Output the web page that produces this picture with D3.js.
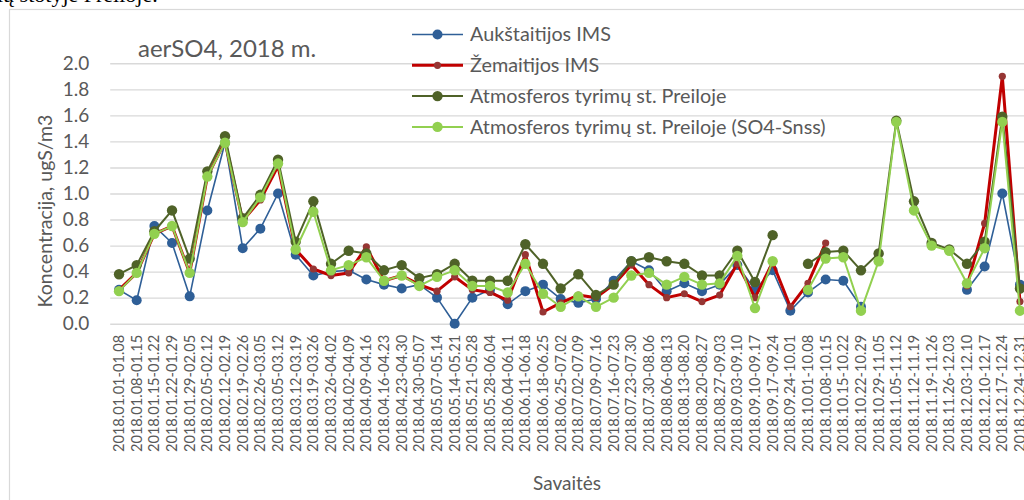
<!DOCTYPE html>
<html>
<head>
<meta charset="utf-8">
<script src="https://cdn.jsdelivr.net/npm/d3@7"></script>
<style>
  body { margin: 0; background: #fff; overflow: hidden; }
  svg { display: block; }
  text { font-family: Lato, "Noto Sans", sans-serif; fill: #595959; }
</style>
</head>
<body>
<div id="chart"></div>
<script>
// weekly periods
var weeks = [
  "2018.01.01-01.08", "2018.01.08-01.15", "2018.01.15-01.22", "2018.01.22-01.29",
  "2018.01.29-02.05", "2018.02.05-02.12", "2018.02.12-02.19", "2018.02.19-02.26",
  "2018.02.26-03.05", "2018.03.05-03.12", "2018.03.12-03.19", "2018.03.19-03.26",
  "2018.03.26-04.02", "2018.04.02-04.09", "2018.04.09-04.16", "2018.04.16-04.23",
  "2018.04.23-04.30", "2018.04.30-05.07", "2018.05.07-05.14", "2018.05.14-05.21",
  "2018.05.21-05.28", "2018.05.28-06.04", "2018.06.04-06.11", "2018.06.11-06.18",
  "2018.06.18-06.25", "2018.06.25-07.02", "2018.07.02-07.09", "2018.07.09-07.16",
  "2018.07.16-07.23", "2018.07.23-07.30", "2018.07.30-08.06", "2018.08.06-08.13",
  "2018.08.13-08.20", "2018.08.20-08.27", "2018.08.27-09.03", "2018.09.03-09.10",
  "2018.09.10-09.17", "2018.09.17-09.24", "2018.09.24-10.01", "2018.10.01-10.08",
  "2018.10.08-10.15", "2018.10.15-10.22", "2018.10.22-10.29", "2018.10.29-11.05",
  "2018.11.05-11.12", "2018.11.12-11.19", "2018.11.19-11.26", "2018.11.26-12.03",
  "2018.12.03-12.10", "2018.12.10-12.17", "2018.12.17-12.24", "2018.12.24-12.31"
];

var aukstaitija = [0.26, 0.18, 0.75, 0.62, 0.21, 0.87, 1.39, 0.58, 0.73, 1.00, 0.53, 0.37,
  0.40, 0.41, 0.34, 0.30, 0.27, 0.30, 0.20, 0.00, 0.20, 0.26, 0.15, 0.25, 0.30, 0.19,
  0.16, 0.19, 0.33, 0.48, 0.41, 0.25, 0.31, 0.25, 0.30, 0.45, 0.26, 0.41, 0.10, 0.24,
  0.34, 0.33, 0.13, null, null, null, null, null, 0.26, 0.44, 1.00, 0.30];

var zemaitija = [0.26, 0.39, 0.69, 0.75, 0.39, 1.13, 1.40, 0.79, 0.95, 1.21, 0.57, 0.42,
  0.37, 0.39, 0.59, 0.33, 0.37, 0.30, 0.25, 0.36, 0.26, 0.24, 0.18, 0.53, 0.09, 0.16,
  0.22, 0.20, 0.30, 0.45, 0.30, 0.20, 0.23, 0.17, 0.22, 0.46, 0.20, 0.47, 0.13, 0.31,
  0.62, null, null, null, null, null, null, null, 0.29, 0.77, 1.90, 0.17];

var preila = [0.38, 0.45, 0.71, 0.87, 0.50, 1.17, 1.44, 0.81, 0.99, 1.26, 0.63, 0.94,
  0.46, 0.56, 0.54, 0.41, 0.45, 0.35, 0.38, 0.46, 0.33, 0.33, 0.33, 0.61, 0.46, 0.27,
  0.38, 0.22, 0.30, 0.48, 0.51, 0.48, 0.46, 0.37, 0.37, 0.56, 0.32, 0.68, null, 0.46,
  0.55, 0.56, 0.41, 0.54, 1.56, 0.94, 0.62, 0.57, 0.46, 0.63, 1.59, 0.27];

var preilaSnss = [0.25, 0.39, 0.69, 0.75, 0.39, 1.13, 1.39, 0.78, 0.97, 1.23, 0.57, 0.86,
  0.41, 0.45, 0.51, 0.33, 0.37, 0.29, 0.36, 0.41, 0.29, 0.29, 0.24, 0.46, 0.23, 0.13,
  0.21, 0.13, 0.20, 0.37, 0.39, 0.30, 0.36, 0.30, 0.31, 0.52, 0.12, 0.48, null, 0.26,
  0.50, 0.51, 0.10, 0.48, 1.55, 0.87, 0.60, 0.56, 0.31, 0.58, 1.55, 0.10];

var yTicks = [0, 0.2, 0.4, 0.6, 0.8, 1.0, 1.2, 1.4, 1.6, 1.8, 2.0];

// drawn in this order (last on top)
var series = [
  {name: "Aukštaitijos IMS", values: aukstaitija, line: "#2f5f97", dot: "#2f5f97", lw: 1.6, r: 5},
  {name: "Žemaitijos IMS", values: zemaitija, line: "#c00000", dot: "#963634", lw: 3, r: 3.6},
  {name: "Atmosferos tyrimų st. Preiloje", values: preila, line: "#4f6228", dot: "#4f6228", lw: 2, r: 5.2},
  {name: "Atmosferos tyrimų st. Preiloje (SO4-Snss)", values: preilaSnss, line: "#92d050", dot: "#92d050", lw: 2, r: 5.2}
];

var width = 1024, height = 500;
var plot = {left: 110.2, right: 1028.8, top: 63.3, bottom: 323.7};

var svg = d3.select('#chart').append('svg')
    .attr('width', width)
    .attr('height', height);

// text of the document above the chart (cut off)
svg.append('text')
    .attr('x', -14).attr('y', 2)
    .style('font-family', '"Liberation Serif", serif')
    .style('font-size', '22px')
    .style('fill', '#000')
    .text('nių stotyje Preiloje.');

svg.append('rect')
    .attr('x', 9.5).attr('y', 9.5)
    .attr('width', 1100).attr('height', 600)
    .attr('fill', 'none')
    .attr('stroke', '#d9d9d9')
    .attr('stroke-width', 1.2);

var x = d3.scaleBand().domain(weeks).range([plot.left, plot.right]);
var y = d3.scaleLinear().domain([0, 2]).range([plot.bottom, plot.top]);
var cx = function(i) { return x(weeks[i]) + x.bandwidth() / 2; };

// gridlines + y labels
var yAxis = svg.append('g')
    .attr('transform', 'translate(' + plot.left + ',0)')
    .call(d3.axisLeft(y).tickValues(yTicks).tickFormat(d3.format('.1f'))
        .tickSize(-(plot.right - plot.left)).tickPadding(21));
yAxis.select('.domain').remove();
yAxis.selectAll('line').attr('stroke', '#d9d9d9').attr('stroke-width', 1.4);
yAxis.selectAll('text')
    .style('font-size', '19px')
    .style('fill', '#595959')
    .style('font-family', 'Lato, sans-serif');

// x labels
var xAxis = svg.append('g')
    .attr('transform', 'translate(0,' + plot.bottom + ')')
    .call(d3.axisBottom(x).tickSize(0).tickPadding(0));
xAxis.select('.domain').remove();
xAxis.selectAll('text')
    .attr('transform', 'rotate(-90)')
    .attr('x', -11).attr('y', 0).attr('dy', '0.35em')
    .attr('text-anchor', 'end')
    .style('font-size', '14.6px')
    .style('fill', '#595959')
    .style('font-family', 'Lato, sans-serif');

// series
series.forEach(function(s) {
  var pts = s.values.map(function(v, i) { return {i: i, v: v}; });
  var line = d3.line()
      .defined(function(d) { return d.v != null; })
      .x(function(d) { return cx(d.i); })
      .y(function(d) { return y(d.v); });
  var g = svg.append('g').attr('class', 'series');
  g.append('path')
      .datum(pts)
      .attr('d', line)
      .attr('fill', 'none')
      .attr('stroke', s.line)
      .attr('stroke-width', s.lw)
      .attr('stroke-linejoin', 'round');
  g.selectAll('circle')
      .data(pts.filter(function(d) { return d.v != null; }))
      .enter().append('circle')
      .attr('cx', function(d) { return cx(d.i); })
      .attr('cy', function(d) { return y(d.v); })
      .attr('r', s.r)
      .attr('fill', s.dot);
});

// legend
var legend = svg.append('g').attr('transform', 'translate(412,34.5)');
var item = legend.selectAll('g').data(series).enter().append('g')
    .attr('transform', function(d, i) { return 'translate(0,' + (i * 30.8) + ')'; });
item.append('line')
    .attr('x1', 0).attr('x2', 51)
    .attr('stroke', function(d) { return d.line; })
    .attr('stroke-width', function(d) { return d.lw; });
item.append('circle')
    .attr('cx', 25.5)
    .attr('r', function(d) { return d.r; })
    .attr('fill', function(d) { return d.dot; });
item.append('text')
    .attr('x', 58).attr('dy', '0.35em')
    .style('font-size', '19.8px')
    .text(function(d) { return d.name; });

// titles
svg.append('text')
    .attr('x', 138).attr('y', 57)
    .style('font-size', '24px')
    .text('aerSO4, 2018 m.');

svg.append('text')
    .attr('transform', 'translate(52,211) rotate(-90)')
    .attr('text-anchor', 'middle')
    .style('font-size', '19.5px')
    .text('Koncentracija, ugS/m3');

svg.append('text')
    .attr('x', 567).attr('y', 490)
    .attr('text-anchor', 'middle')
    .style('font-size', '19px')
    .text('Savaitės');
</script>
</body>
</html>
